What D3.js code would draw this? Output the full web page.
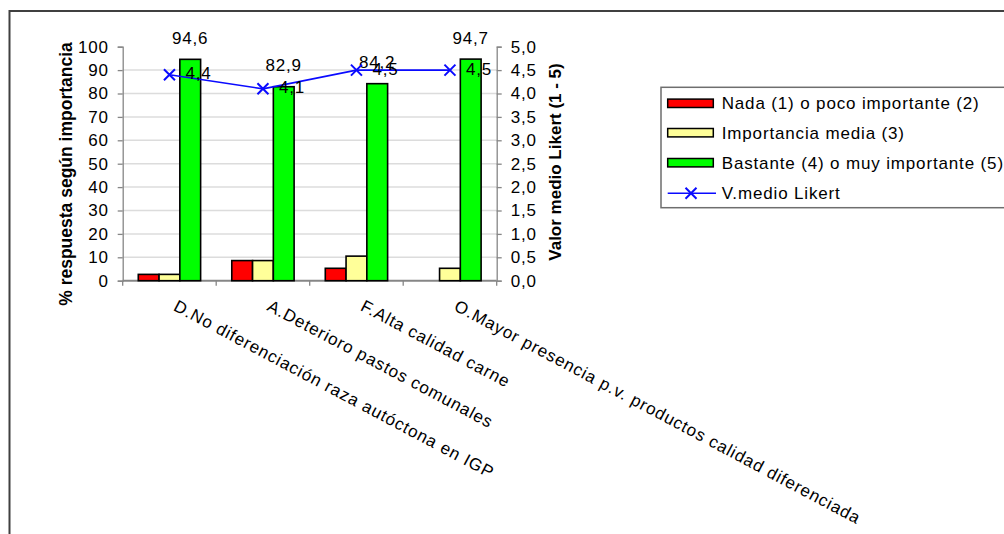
<!DOCTYPE html>
<html>
<head>
<meta charset="utf-8">
<script src="https://cdn.jsdelivr.net/npm/d3@7"></script>
<style>
  html, body { margin: 0; padding: 0; background: #ffffff; }
  svg { display: block; }
  text { font-family: "Liberation Sans", Arial, sans-serif; fill: #000; }
</style>
</head>
<body>
<svg id="chart" width="1004" height="534"></svg>
<script>
// Categories (factors) and responses, in %
const categories = [
  "D.No diferenciación raza autóctona en IGP",
  "A.Deterioro pastos comunales",
  "F.Alta calidad carne",
  "O.Mayor presencia p.v. productos calidad diferenciada"
];
const nada = [2.7, 8.6, 5.3, 0];          // Nada (1) o poco importante (2)
const media = [2.7, 8.6, 10.5, 5.3];      // Importancia media (3)
const bastante = [94.6, 82.9, 84.2, 94.7]; // Bastante (4) o muy importante (5)
const likert = [4.4, 4.1, 4.5, 4.5];      // Valor medio Likert (1 - 5)

const seriesNames = [
  "Nada (1) o poco importante (2)",
  "Importancia media (3)",
  "Bastante (4) o muy importante (5)",
  "V.medio Likert"
];
const leftTicks = [0, 10, 20, 30, 40, 50, 60, 70, 80, 90, 100];
const rightTicks = [0, 0.5, 1, 1.5, 2, 2.5, 3, 3.5, 4, 4.5, 5];

const barColors = ["#ff0000", "#ffff99", "#00ff00"];
const lineColor = "#0a0aff";
const axisColor = "#868686";
const gridColor = "#dcdcdc";

const svg = d3.select("#chart");
const fmt1 = v => d3.format(".1f")(v).replace(".", ",");
const fmtLeft = d3.format("d");

// plot area
const X0 = 122.7, X1 = 496.7, YT = 46.7, YB = 280.7;

const x = d3.scaleBand().domain(categories).range([X0, X1]).paddingInner(0).paddingOuter(0);
const y = d3.scaleLinear().domain([0, 100]).range([YB, YT]);
const y2 = d3.scaleLinear().domain([0, 5]).range([YB, YT]);

// bars: gap width 150% of a bar
const barW = x.bandwidth() / 4.5;
const sub = d3.scaleBand().domain([0, 1, 2]).range([0.75 * barW, 3.75 * barW]).padding(0);

// outer frame
svg.append("rect")
  .attr("x", 9.5).attr("y", 11).attr("width", 1010).attr("height", 540)
  .attr("fill", "none").attr("stroke", "#404040").attr("stroke-width", 2);

// gridlines
svg.append("g").selectAll("line")
  .data(leftTicks.filter(t => t > 0 && t < 100))
  .join("line")
  .attr("x1", X0).attr("x2", X1)
  .attr("y1", d => y(d)).attr("y2", d => y(d))
  .attr("stroke", gridColor).attr("stroke-width", 1.5);

const tickFont = sel => sel
  .style("font-family", '"Liberation Sans", Arial, sans-serif')
  .style("font-size", "17px").style("letter-spacing", "0.8px").attr("fill", "#000");

// left axis
const leftAxis = svg.append("g").attr("transform", `translate(${X0},0)`)
  .call(d3.axisLeft(y).tickValues(leftTicks).tickFormat(fmtLeft).tickSize(5).tickPadding(9));
leftAxis.select(".domain").attr("stroke", axisColor).attr("stroke-width", 1.3);
leftAxis.selectAll(".tick line").attr("stroke", axisColor).attr("stroke-width", 1.3);
leftAxis.selectAll(".tick text").call(tickFont);

// right axis
const rightAxis = svg.append("g").attr("transform", `translate(${X1},0)`)
  .call(d3.axisRight(y2).tickValues(rightTicks).tickFormat(fmt1).tickSize(5).tickPadding(9));
rightAxis.select(".domain").attr("stroke", axisColor).attr("stroke-width", 1.3);
rightAxis.selectAll(".tick line").attr("stroke", axisColor).attr("stroke-width", 1.3);
rightAxis.selectAll(".tick text").call(tickFont);

// bottom category axis (ticks between categories)
const bottom = svg.append("g");
bottom.append("line")
  .attr("x1", X0).attr("x2", X1).attr("y1", YB).attr("y2", YB)
  .attr("stroke", axisColor).attr("stroke-width", 2);
const boundaries = categories.map(c => x(c)).concat([X1]);
bottom.selectAll("line.tk").data(boundaries).join("line")
  .attr("class", "tk")
  .attr("x1", d => d).attr("x2", d => d)
  .attr("y1", YB).attr("y2", YB + 5)
  .attr("stroke", axisColor).attr("stroke-width", 1.3);

// rotated category labels
bottom.selectAll("text.cat").data(categories).join("text")
  .attr("class", "cat")
  .attr("transform", d => `translate(${x(d) + x.bandwidth() / 2 + 3},${YB + 29}) rotate(28)`)
  .style("font-size", "17px").style("letter-spacing", "0.9px")
  .text(d => d);

// bars
const series = [nada, media, bastante];
const barsG = svg.append("g");
series.forEach((vals, si) => {
  barsG.selectAll(`rect.s${si}`)
    .data(categories.map((c, i) => ({ c, v: vals[i] })).filter(d => d.v > 0))
    .join("rect")
    .attr("class", `s${si}`)
    .attr("x", d => x(d.c) + sub(si))
    .attr("width", sub.bandwidth())
    .attr("y", d => y(d.v))
    .attr("height", d => YB - y(d.v))
    .attr("fill", barColors[si])
    .attr("stroke", "#000").attr("stroke-width", 1.6);
});

// value labels on the green bars
svg.append("g").selectAll("text")
  .data(categories.map((c, i) => ({ c, v: bastante[i] })))
  .join("text")
  .attr("x", d => x(d.c) + sub(2) + sub.bandwidth() / 2)
  .attr("y", d => y(d.v) - 15.5)
  .attr("text-anchor", "middle")
  .style("font-size", "17px").style("letter-spacing", "0.8px")
  .text(d => fmt1(d.v));

// Likert line
const pts = categories.map((c, i) => ({ c, v: likert[i], px: x(c) + x.bandwidth() / 2, py: y2(likert[i]) }));
svg.append("path")
  .datum(pts)
  .attr("d", d3.line().x(d => d.px).y(d => d.py))
  .attr("fill", "none").attr("stroke", lineColor).attr("stroke-width", 1.6);

const xMark = (cx, cy, r) => `M${cx - r},${cy - r}L${cx + r},${cy + r}M${cx - r},${cy + r}L${cx + r},${cy - r}`;
svg.append("g").selectAll("path")
  .data(pts).join("path")
  .attr("d", d => xMark(d.px, d.py, 5.5))
  .attr("stroke", lineColor).attr("stroke-width", 2).attr("fill", "none");

svg.append("g").selectAll("text")
  .data(pts).join("text")
  .attr("x", d => d.px + 16)
  .attr("y", d => d.py + 4.5)
  .style("font-size", "17px").style("letter-spacing", "0.8px")
  .text(d => fmt1(d.v));

// axis titles
svg.append("text")
  .attr("transform", `translate(72,174) rotate(-90)`)
  .attr("text-anchor", "middle")
  .style("font-size", "17.5px").style("font-weight", "bold")
  .text("% respuesta según importancia");

svg.append("text")
  .attr("transform", `translate(561,162) rotate(-90)`)
  .attr("text-anchor", "middle")
  .style("font-size", "17px").style("font-weight", "bold")
  .text("Valor medio Likert (1 - 5)");

// legend
const lg = svg.append("g");
lg.append("rect")
  .attr("x", 661).attr("y", 87.3).attr("width", 400).attr("height", 120.4)
  .attr("fill", "#fff").attr("stroke", "#6e6e6e").attr("stroke-width", 1.5);
const rowY = [103.3, 132.7, 162.7, 193.3];
seriesNames.forEach((name, i) => {
  if (i < 3) {
    lg.append("rect")
      .attr("x", 667.7).attr("y", rowY[i] - 4.2).attr("width", 45.6).attr("height", 8.4)
      .attr("fill", barColors[i]).attr("stroke", "#000").attr("stroke-width", 1.5);
  } else {
    lg.append("line")
      .attr("x1", 667.7).attr("x2", 716).attr("y1", rowY[i]).attr("y2", rowY[i])
      .attr("stroke", lineColor).attr("stroke-width", 1.6);
    lg.append("path").attr("d", xMark(691, rowY[i], 5.5))
      .attr("stroke", lineColor).attr("stroke-width", 2).attr("fill", "none");
  }
  lg.append("text")
    .attr("x", 721.7).attr("y", rowY[i] + 6)
    .style("font-size", "17px").style("letter-spacing", "0.85px")
    .text(name);
});
</script>
</body>
</html>
